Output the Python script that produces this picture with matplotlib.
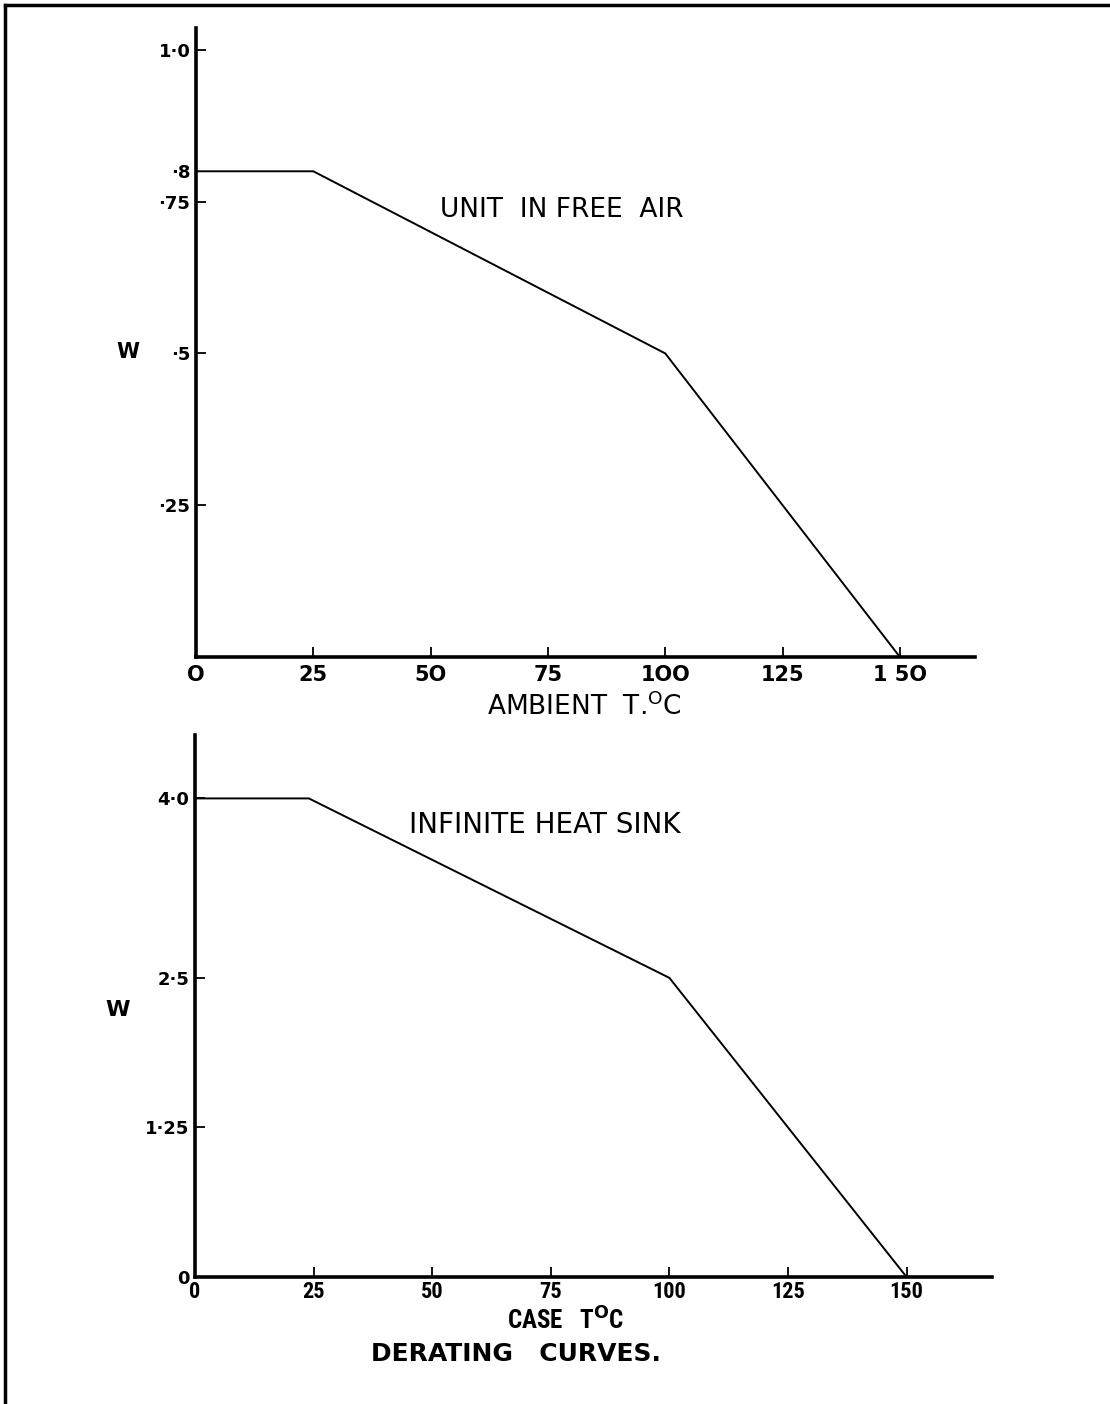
import matplotlib
matplotlib.use("Agg")
import matplotlib.pyplot as plt
from matplotlib.lines import Line2D
from matplotlib import font_manager

# ---- data ----
air_temp = [0, 25, 100, 150]
air_watts = [0.8, 0.8, 0.5, 0.0]
air_xticks = [0, 25, 50, 75, 100, 125, 150]
air_xlabels = ["O", "25", "5O", "75", "1OO", "125", "1 5O"]
air_yticks = [0.25, 0.5, 0.75, 1.0]
air_ylabels = ["·25", "·5", "·75", "1·0"]

sink_temp = [0, 24, 100, 150]
sink_watts = [4.0, 4.0, 2.5, 0.0]
sink_xticks = [0, 25, 50, 75, 100, 125, 150]
sink_xlabels = ["0", "25", "50", "75", "100", "125", "150"]
sink_yticks = [0.0, 1.25, 2.5, 4.0]
sink_ylabels = ["0", "1·25", "2·5", "4·0"]

available = {f.name for f in font_manager.fontManager.ttflist}
narrow = None
for cand in ["Liberation Sans Narrow", "DejaVu Sans Condensed", "Roboto Condensed"]:
    if cand in available:
        narrow = cand
        break
if narrow is None:
    narrow = "DejaVu Sans"

W, H = 1110, 1404
fig = plt.figure(figsize=(W / 100, H / 100), dpi=100)
fig.patch.set_facecolor("white")

def px(x, y):
    return x / W, 1 - y / H

def make_axes(x0, x1, y0, y1):
    return fig.add_axes([x0 / W, 1 - y1 / H, (x1 - x0) / W, (y1 - y0) / H])

# frame of the scanned page
fig.add_artist(Line2D([5 / W, 5 / W], [0, 1 - 5 / H], color="black", lw=2.5,
                      transform=fig.transFigure))
fig.add_artist(Line2D([5 / W, 1], [1 - 5 / H, 1 - 5 / H], color="black", lw=2.5,
                      transform=fig.transFigure))

def style(ax):
    for s in ["top", "right"]:
        ax.spines[s].set_visible(False)
    for s in ["left", "bottom"]:
        ax.spines[s].set_linewidth(2.6)
    ax.tick_params(direction="in", length=7, width=1.3, pad=4)

# ---- top plot ----
ax1 = make_axes(196, 975, 28, 657)
ax1.plot(air_temp, air_watts, color="black", lw=1.4)
ax1.set_xlim(0, 166)
ax1.set_ylim(0, 1.036)
style(ax1)
ax1.set_xticks(air_xticks)
ax1.set_xticklabels(air_xlabels, fontsize=15, fontweight="bold")
ax1.set_yticks(air_yticks)
ax1.set_yticklabels(air_ylabels, fontsize=13, fontweight="bold")
ax1.set_yticks([0.8], labels=["·8"], minor=True)
ax1.tick_params(axis="y", which="minor", length=0, pad=4, labelsize=13)
for t in ax1.get_yticklabels(minor=True):
    t.set_fontweight("bold")
ax1.tick_params(axis="x", pad=6)

fig.text(*px(128, 352), "W", fontsize=15, fontweight="bold", ha="center", va="center")
fig.text(*px(562, 210), "UNIT  IN FREE  AIR", fontsize=19, ha="center", va="center")
fig.text(*px(584, 707), "AMBIENT  T.$^{\\mathrm{O}}$C", fontsize=19, ha="center", va="center")

# ---- bottom plot ----
ax2 = make_axes(195, 992, 735, 1277)
ax2.plot(sink_temp, sink_watts, color="black", lw=1.4)
ax2.set_xlim(0, 168)
ax2.set_ylim(0, 4.53)
style(ax2)
ax2.set_xticks(sink_xticks)
ax2.set_xticklabels(sink_xlabels, fontsize=16, fontweight="bold", family=narrow)
ax2.set_yticks(sink_yticks)
ax2.set_yticklabels(sink_ylabels, fontsize=13, fontweight="bold")
ax2.tick_params(axis="x", pad=3)

fig.text(*px(118, 1010), "W", fontsize=16, fontweight="bold", ha="center", va="center")
fig.text(*px(545, 825), "INFINITE HEAT SINK", fontsize=20, ha="center", va="center")
fig.text(*px(566, 1321), "CASE   T$^{\\mathbf{O}}$C", fontsize=18, fontweight="bold",
         family=narrow, ha="center", va="center")
fig.text(*px(516, 1354), "DERATING   CURVES.", fontsize=18, fontweight="bold",
         ha="center", va="center")

fig.savefig("out.png", dpi=100, facecolor="white")
